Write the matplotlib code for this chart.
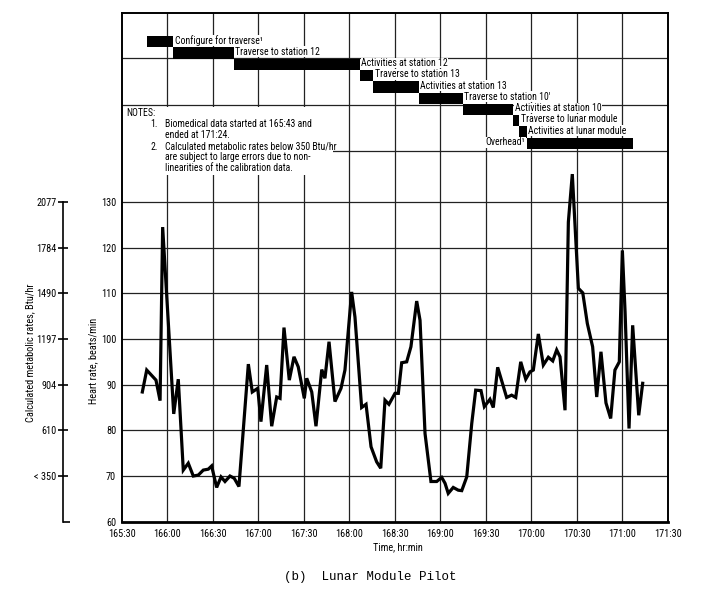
import matplotlib
matplotlib.use('Agg')
import matplotlib.pyplot as plt
from matplotlib.patches import Rectangle
from matplotlib import font_manager as fm

# ---------------- data (time in minutes after 165:00) ----------------
time_min = [43.6, 46.5, 52.6, 55.3, 57.0, 64.3, 67.3, 70.6, 73.9, 77.2, 80.5, 83.8,
            87.1, 89.3, 92.6, 95.5, 98.1, 101.4, 104.2, 107.3, 113.5, 116.1, 119.7,
            121.8, 125.6, 128.9, 132.2, 134.4, 137.0, 140.5, 143.6, 146.4, 150.4,
            152.0, 155.3, 158.1, 161.9, 164.0, 166.7, 170.6, 174.6, 177.2, 181.6,
            183.8, 188.2, 191.1, 194.4, 198.1, 200.8, 203.6, 206.2, 210.2, 212.4,
            214.6, 217.9, 220.7, 224.5, 226.7, 230.0, 233.9, 237.7, 241.0, 243.2,
            245.3, 248.6, 251.9, 254.2, 257.5, 260.8, 263.4, 266.9, 269.1, 272.8,
            275.0, 277.9, 283.8, 287.1, 289.8, 293.1, 296.4, 299.2, 301.4, 304.7,
            308.0, 311.3, 314.2, 316.8, 319.0, 322.3, 324.5, 327.1, 331.1, 334.0,
            337.0, 340.5, 343.2, 346.0, 349.3, 352.4, 355.2, 358.1, 360.1, 361.9,
            364.5, 366.9, 370.9, 373.5]
heart_rate = [88.4, 93.2, 91.0, 86.5, 124.5, 83.6, 91.2, 71.3, 72.8, 70.0, 70.2, 71.3,
              71.5, 72.2, 67.5, 69.8, 68.8, 70.0, 69.5, 67.7, 94.5, 88.4, 89.2,
              81.9, 94.3, 80.9, 87.3, 87.0, 102.5, 91.0, 96.1, 93.9, 87.0,
              91.4, 88.4, 80.9, 93.3, 91.4, 99.4, 86.3, 89.2, 93.2, 110.3,
              104.8, 85.0, 85.7, 76.4, 73.1, 71.7, 86.6, 85.7, 88.1, 88.1,
              94.8, 95.0, 98.3, 108.3, 104.1, 79.3, 68.8, 68.8, 69.7, 68.4,
              66.2, 67.5, 66.9, 66.8, 69.8, 81.5, 88.8, 88.7, 85.2, 86.8,
              85.0, 93.8, 87.2, 87.7, 87.2, 95.0, 91.2, 92.8, 93.2, 101.1,
              94.3, 96.0, 95.2, 97.6, 96.1, 84.4, 125.6, 136.1, 111.1, 110.1,
              103.4, 98.3, 87.3, 97.2, 86.0, 82.6, 93.2, 95.0, 119.4, 105.9,
              80.4, 103.0, 83.3, 90.3]

activity_names = ["Configure for traverse\u00b9", "Traverse to station 12",
                  "Activities at station 12", "Traverse to station 13",
                  "Activities at station 13", "Traverse to station 10'",
                  "Activities at station 10", "Traverse to lunar module",
                  "Activities at lunar module", "Overhead\u00b9"]
activity_start = [47, 64, 104, 187, 196, 226, 255, 288, 292, 297]
activity_end = [64, 104, 187, 196, 226, 255, 288, 292, 297, 367]

x_ticks = [30, 60, 90, 120, 150, 180, 210, 240, 270, 300, 330, 360, 390]
x_tick_labels = ['165:30', '166:00', '166:30', '167:00', '167:30', '168:00', '168:30',
                 '169:00', '169:30', '170:00', '170:30', '171:00', '171:30']
hr_ticks = [60, 70, 80, 90, 100, 110, 120, 130]
metabolic_ticks = [70, 80, 90, 100, 110, 120, 130]
metabolic_labels = ['< 350', '610', '904', '1197', '1490', '1784', '2077']

notes_lines = ["Biomedical data started at 165:43 and", "ended at 171:24.",
               "Calculated metabolic rates below 350 Btu/hr",
               "are subject to large errors due to non-",
               "linearities of the calibration data."]

# ---------------- font choice: a condensed sans if one is installed ----------------
def _has(name, stretches=None):
    for f in fm.fontManager.ttflist:
        if f.name == name:
            st = str(f.stretch)
            if stretches is None or st in stretches:
                return True
    return False

if _has('Liberation Sans Narrow'):
    FAM, STRETCH, FS = 'Liberation Sans Narrow', 'normal', 7.3
elif _has('Roboto Condensed'):
    FAM, STRETCH, FS = 'Roboto Condensed', 'normal', 7.0
elif _has('DejaVu Sans', ('condensed', 'semi-condensed')):
    FAM, STRETCH, FS = 'DejaVu Sans', 'condensed', 6.5
elif _has('Noto Sans', ('condensed', 'semi-condensed', 'extra-condensed')):
    FAM, STRETCH, FS = 'Noto Sans', 'condensed', 7.0
else:
    FAM, STRETCH, FS = 'Liberation Sans', 'normal', 6.3

plt.rcParams['font.family'] = [FAM, 'DejaVu Sans']
plt.rcParams['font.stretch'] = STRETCH

W, H = 702, 593
fig = plt.figure(figsize=(W / 100, H / 100), dpi=100)
fig.patch.set_facecolor('white')

px_left, px_right, px_top, px_bottom = 121.7, 667.7, 13.3, 521.7
ax = fig.add_axes([px_left / W, 1 - px_bottom / H, (px_right - px_left) / W,
                   (px_bottom - px_top) / H])
y_top = 171.3
ax.set_xlim(30, 390)
ax.set_ylim(60, y_top)

grid_kw = dict(color='#222222', lw=0.9, zorder=0.5)
for xt in x_ticks[1:-1]:
    ax.axvline(xt, **grid_kw)
for yt in hr_ticks[1:]:
    ax.axhline(yt, **grid_kw)
for yt in [141.1, 151.2, 161.6]:
    ax.axhline(yt, **grid_kw)

for s in ax.spines.values():
    s.set_linewidth(1.4)
    s.set_color('black')
ax.spines['bottom'].set_linewidth(2.0)

TFS = FS + 0.4
ax.set_xticks(x_ticks)
ax.set_xticklabels(x_tick_labels, fontsize=TFS)
ax.set_yticks(hr_ticks)
ax.set_yticklabels([str(v) for v in hr_ticks], fontsize=TFS)
ax.tick_params(axis='both', length=0, pad=4)
ax.tick_params(axis='x', pad=5)

# notes box
ax.add_patch(Rectangle((0, 0.682), 0.387, 0.815 - 0.682, transform=ax.transAxes,
                       facecolor='white', edgecolor='none', zorder=1))
ax.text(0.009, 0.803, "NOTES:", transform=ax.transAxes, fontsize=FS, va='center', zorder=4)
note_y = [0.782, 0.761, 0.738, 0.717, 0.695]
note_num = ["1.", "", "2.", "", ""]
for yy, num, line in zip(note_y, note_num, notes_lines):
    if num:
        ax.text(0.052, yy, num, transform=ax.transAxes, fontsize=FS, va='center', zorder=4)
    ax.text(0.079, yy, line, transform=ax.transAxes, fontsize=FS, va='center', zorder=4)

# activity timeline bars
row_top = 166.3
row_h = 2.47
for i, (name, st, en) in enumerate(zip(activity_names, activity_start, activity_end)):
    yc = row_top - row_h * (i + 0.5)
    ax.barh(yc, en - st, left=st, height=row_h, color='black', zorder=3)
    if i == len(activity_names) - 1:
        ax.text(st - 0.8, yc + 0.2, name, fontsize=FS, ha='right', va='center', zorder=4,
                bbox=dict(fc='white', ec='none', pad=0.3))
    else:
        ax.text(en + 1.0, yc + 0.3, name, fontsize=FS, ha='left', va='center', zorder=4,
                bbox=dict(fc='white', ec='none', pad=0.3))

# heart rate line
ax.plot(time_min, heart_rate, color='black', lw=2.3, solid_joinstyle='miter', zorder=3)

# metabolic rate axis
ax2 = fig.add_axes([63.3 / W, 1 - px_bottom / H, 0.0005, (px_bottom - px_top) / H])
ax2.set_ylim(60, y_top)
ax2.set_xticks([])
for k in ['top', 'right', 'bottom']:
    ax2.spines[k].set_visible(False)
ax2.spines['left'].set_bounds(60, 130)
ax2.spines['left'].set_linewidth(1.2)
ax2.set_yticks(metabolic_ticks)
ax2.set_yticklabels(metabolic_labels, fontsize=TFS)
ax2.tick_params(axis='y', direction='inout', length=7, width=1.2, pad=1.5)
ax2.set_yticks([60, 130], minor=True)
ax2.tick_params(axis='y', which='minor', direction='in', length=5, width=1.2)
ax2.patch.set_visible(False)

fig.text(30 / W, 1 - 353 / H, "Calculated metabolic rates, Btu/hr", rotation=90,
         ha='center', va='center', fontsize=TFS)
fig.text(93 / W, 1 - 361 / H, "Heart rate, beats/min", rotation=90,
         ha='center', va='center', fontsize=TFS)
fig.text(398 / W, 1 - 547 / H, "Time, hr:min", ha='center', va='center', fontsize=TFS)
fig.text(370 / W, 1 - 577 / H, "(b)  Lunar Module Pilot", ha='center', va='center',
         fontsize=9, family=['Liberation Mono', 'DejaVu Sans Mono'], fontstretch='normal')

fig.savefig('out.png', dpi=100, facecolor='white')
